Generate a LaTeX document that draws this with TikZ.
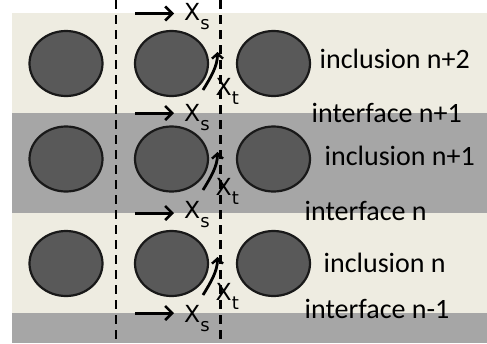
\documentclass[tikz,border=0pt]{standalone}
\usepackage{fontspec}
\setmainfont{Carlito}
\newfontfamily\xfont{DejaVu Sans}
\usetikzlibrary{arrows.meta,shapes.geometric}
\definecolor{lightband}{HTML}{EEECE1}
\definecolor{grayband}{HTML}{A6A6A6}
\definecolor{inclfill}{HTML}{595959}
\newcommand{\subx}[1]{\raisebox{-9pt}{\fontsize{18}{20}\selectfont #1}}
\begin{document}
\begin{tikzpicture}[x=1pt,y=-1pt,
  incl/.style={draw=black!90,line width=2.2pt,fill=inclfill,ellipse,inner sep=0pt,minimum width=73pt,minimum height=65pt},
  vdash/.style={line width=2.2pt,dash pattern=on 9pt off 6pt},
  sarrow/.style={line width=3pt,-{Straight Barb[length=7pt,width=14pt,line width=2.6pt]}},
  tarrow/.style={line width=2.8pt,-{Straight Barb[length=5pt,width=11pt,line width=2.4pt]}},
  lbl/.style={font=\fontsize{28}{30}\selectfont,anchor=base west,inner sep=0pt},
  xlbl/.style={font=\xfont\fontsize{23.5}{26}\selectfont,anchor=base west,inner sep=0pt}]
\useasboundingbox (0,0) rectangle (487,343);
\fill[white] (0,0) rectangle (487,343);
% bands
\fill[lightband] (12,13) rectangle (487,113);
\fill[grayband] (12,113) rectangle (487,213);
\fill[lightband] (12,213) rectangle (487,313);
\fill[grayband] (12,313) rectangle (487,343);
% inclusions
\foreach \r/\y in {1/63.5,2/159,3/263.5}{
  \foreach \c/\x in {1/66,2/171.5,3/273.5}{
    \node[incl] (c\r\c) at (\x,\y) {};
  }
}
% dashed lines
\coordinate (d1t) at (116,0); \coordinate (d1b) at (116,343);
\coordinate (d2t) at (220.5,0); \coordinate (d2b) at (220.5,343);
\draw[vdash] (d1t) -- (d1b);
\draw[vdash] (d2t) -- (d2b);
% Xs arrows
\foreach \i/\y/\b in {1/13.5/20.5,2/113/121,3/213/218.5,4/313/322}{
  \coordinate (sa\i) at (135,\y); \coordinate (sb\i) at (174,\y);
  \draw[sarrow] (sa\i) -- (sb\i);
  \node[xlbl] (xs\i) at (184,\b) {X\subx{s}};
}
% Xt arrows
\foreach \i/\dy in {1/0,2/100,3/205}{
  \coordinate (ta\i) at (203,90+\dy); \coordinate (tb\i) at (217.5,52+\dy);
  \draw[tarrow] (ta\i) .. controls (211,77+\dy) and (217.5,66+\dy) .. (tb\i);
  \node[xlbl] (xt\i) at (215.5,95.5+\dy) {X\subx{t}};
}
% labels
\node[lbl] (l1) at (319.5,68) {inclusion n+2};
\node[lbl] (l2) at (311.5,122) {interface n+1};
\node[lbl] (l3) at (324.5,165) {inclusion n+1};
\node[lbl] (l4) at (304.5,220) {interface n};
\node[lbl] (l5) at (323.5,272.5) {inclusion n};
\node[lbl] (l6) at (304.5,318.5) {interface n-1};
\end{tikzpicture}
\end{document}
